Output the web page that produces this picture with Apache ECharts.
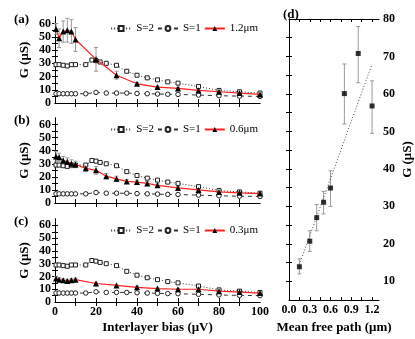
<!DOCTYPE html>
<html><head><meta charset="utf-8">
<script src="https://cdn.jsdelivr.net/npm/echarts@6/dist/echarts.min.js"></script>
<style>html,body{margin:0;padding:0;background:#fff}#c{width:415px;height:339px}</style>
</head><body><div id="c"></div>
<script>
// ---- data ----
const biasS2 = [0.5,2,4,6,8,10,15,18,20,22,25,30,35,40,45,50,55,60,70,80,90,100];
const gS2    = [29,29,28.5,28,29,29,29,32.5,32,31,30,28.5,24,21,19,17.5,16,15,12.5,9.5,8.5,7.5];
const biasS1 = [0.5,2,4,6,8,10,15,20,25,30,35,40,45,50,55,60,70,80,90,100];
const gS1    = [7,7,7,7,7,7,7,8,7.5,7.5,7.5,7.2,7,6.8,6.6,6.5,6,5.5,5.2,5];

const biasA = [0.5,2,4,6,8,10,20,30,40,50,60,70,80,90,100];
const gA    = [56,49,54,55,54,48,33,21,14.5,12,11,9.5,8.5,7.5,6.5];
const errA  = [4,7,8,9,9,9,9,3,1,0.8,0.8,0.5,0.5,0.5,0.5];

const biasB = [0.5,2,4,6,8,10,15,20,25,30,35,40,45,50,60,70,80,90,100];
const gB    = [35.5,35,32.5,31.5,30,29.5,26.5,25,20.5,18.5,16.5,16,15,13.5,11.5,10,8.5,7.8,7.2];
const errB  = [4,3,3,3,3,2.5,2.5,3,2,2,1.5,1.5,1.5,1.2,1,1,0.8,0.6,0.5];

const biasC = [0.5,2,4,6,8,10,20,30,40,50,60,70,80,90,100];
const gC    = [18.5,17.5,17,16.5,17,17.5,14.5,13,11.5,10.5,10,10,8.5,7.8,7];
const errC  = [1.5,1.5,1.2,1.2,1.2,1.2,1,0.8,0.8,0.6,0.6,0.6,0.5,0.5,0.5];

const mfp   = [0.15,0.3,0.4,0.5,0.6,0.8,1.0,1.2];
const gD    = [13.9,20.7,27,31.1,34.9,60.1,70.8,56.8];
const gDlo  = [12,18,23.5,28,30,52,63,49.5];
const gDhi  = [16,23.5,30.5,34,39.5,68,78,63.5];
const fitX  = [0.15,1.2];
const fitY  = [14.5,68];

const panelNames = ['1.2μm','0.6μm','0.3μm'];
const panelLetters = ['(a)','(b)','(c)','(d)'];
const leftYLabels = [0,10,20,30,40,50,60];
const leftYTicks = [5,10,15,20,25,30,35,40,45,50,55,60];
const biasLabels = [0,20,40,60,80,100];
const biasTicks = [10,20,30,40,50,60,70,80,90];
const mfpLabels = [0,0.3,0.6,0.9,1.2];
const mfpTicks = [0.15,0.3,0.45,0.6,0.75,0.9,1.05,1.2];
const gDLabels = [10,20,30,40,50,60,70,80];
const gDTicks = [10,15,20,25,30,35,40,45,50,55,60,65,70,75];

const redSets = [[biasA,gA,errA],[biasB,gB,errB],[biasC,gC,errC]];

// ---- layout ----
const FONT = "'Liberation Serif', 'DejaVu Serif', serif";
const grids = [
  {left:55, width:205, top:17, height:86},
  {left:55, width:205, top:118, height:85},
  {left:55, width:205, top:219, height:83},
  {left:289, width:94, top:19, height:285}
];
const zip = (a,b) => a.map((v,i)=>[v,b[i]]);

function errRender(params, api){
  const x = api.value(0), lo = api.value(1), hi = api.value(2);
  const p1 = api.coord([x, lo]), p2 = api.coord([x, hi]);
  const w = 2;
  const st = {stroke:'#9a9a9a', lineWidth:1};
  return {type:'group', children:[
    {type:'line', shape:{x1:p1[0],y1:p1[1],x2:p2[0],y2:p2[1]}, style:st},
    {type:'line', shape:{x1:p1[0]-w,y1:p1[1],x2:p1[0]+w,y2:p1[1]}, style:st},
    {type:'line', shape:{x1:p2[0]-w,y1:p2[1],x2:p2[0]+w,y2:p2[1]}, style:st}
  ]};
}

const xAxis = [], yAxis = [], series = [], legend = [], title = [];
const lblStyle = {fontFamily:FONT, fontWeight:'bold', fontSize:12, color:'#000'};
const nameStyle = {fontFamily:FONT, fontWeight:'bold', fontSize:13, color:'#000'};
const axLine = {show:true, lineStyle:{color:'#000', width:1}};

for (let p=0; p<3; p++){
  const last = p===2;
  xAxis.push({type:'value', gridIndex:p, min:0, max:100, position:'bottom',
    axisLine:axLine, splitLine:{show:false},
    axisTick:{inside:true, length:4, customValues:biasTicks, lineStyle:{color:'#000'}},
    axisLabel:{show:last, customValues:biasLabels, margin:4, ...lblStyle},
    name: last ? 'Interlayer bias (μV)' : '', nameLocation:'middle', nameGap:19, nameTextStyle:nameStyle});
  xAxis.push({type:'value', gridIndex:p, min:0, max:100, position:'top',
    axisLine:axLine, splitLine:{show:false},
    axisTick:{inside:true, length:4, customValues:biasTicks, lineStyle:{color:'#000'}},
    axisLabel:{show:false}});
  yAxis.push({type:'value', gridIndex:p, min:0, max:65, position:'left',
    axisLine:axLine, splitLine:{show:false},
    axisTick:{inside:true, length:3, customValues:leftYTicks, lineStyle:{color:'#000'}},
    axisLabel:{customValues:leftYLabels, margin:4, ...lblStyle},
    name:'G (μS)', nameLocation:'middle', nameGap:24, nameRotate:90, nameTextStyle:nameStyle});
  yAxis.push({type:'value', gridIndex:p, min:0, max:65, position:'right',
    axisLine:axLine, splitLine:{show:false},
    axisTick:{inside:true, length:3, customValues:leftYTicks, lineStyle:{color:'#000'}},
    axisLabel:{show:false}});

  const xi = p*2, yi = p*2;
  series.push({type:'line', name:'S=2', xAxisIndex:xi, yAxisIndex:yi, data:zip(biasS2,gS2),
    symbol:'rect', symbolSize:4, z:3,
    itemStyle:{color:'#fff', borderColor:'#222', borderWidth:1},
    lineStyle:{color:'#333', width:1, type:[1,2]}});
  series.push({type:'line', name:'S=1', xAxisIndex:xi, yAxisIndex:yi, data:zip(biasS1,gS1),
    symbol:'circle', symbolSize:4.5, z:3,
    itemStyle:{color:'#fff', borderColor:'#222', borderWidth:1},
    lineStyle:{color:'#333', width:1, type:[4,4]}});
  const [bx, gy, er] = redSets[p];
  series.push({type:'custom', name:'err'+p, xAxisIndex:xi, yAxisIndex:yi, z:2,
    data: bx.map((v,i)=>[v, gy[i]-er[i], gy[i]+er[i]]), renderItem:errRender,
    encode:{x:0, y:[1,2]}, silent:true});
  series.push({type:'line', name:panelNames[p], xAxisIndex:xi, yAxisIndex:yi, data:zip(bx,gy),
    symbol:'triangle', symbolSize:6, z:4,
    itemStyle:{color:'#000'}, lineStyle:{color:'#ff2020', width:1.2}});

  legend.push({data:['S=2','S=1',panelNames[p]], right:157, top:grids[p].top+6,
    itemWidth:20, itemHeight:6, itemGap:3, padding:0,
    textStyle:{fontFamily:FONT, fontSize:11, color:'#000'}});
  title.push({text:panelLetters[p], left:9, top:grids[p].top-9,
    textStyle:{fontFamily:FONT, fontWeight:'bold', fontSize:13, color:'#000'}});
}

// panel d
xAxis.push({type:'value', gridIndex:3, min:0, max:1.3, position:'bottom',
  axisLine:axLine, splitLine:{show:false},
  axisTick:{inside:true, length:3, customValues:mfpTicks, lineStyle:{color:'#000'}},
  axisLabel:{customValues:mfpLabels, margin:4, formatter:v=>v.toFixed(1), ...lblStyle},
  name:'Mean free path (μm)', nameLocation:'middle', nameGap:19, nameTextStyle:nameStyle});
xAxis.push({type:'value', gridIndex:3, min:0, max:1.3, position:'top',
  axisLine:axLine, splitLine:{show:false},
  axisTick:{inside:true, length:3, customValues:mfpTicks, lineStyle:{color:'#000'}},
  axisLabel:{show:false}});
yAxis.push({type:'value', gridIndex:3, min:5, max:80, position:'right',
  axisLine:axLine, splitLine:{show:false},
  axisTick:{inside:true, length:3, customValues:gDTicks, lineStyle:{color:'#000'}},
  axisLabel:{customValues:gDLabels, margin:4, ...lblStyle},
  name:'G (μS)', nameLocation:'middle', nameGap:22, nameRotate:90, nameTextStyle:nameStyle});
yAxis.push({type:'value', gridIndex:3, min:5, max:80, position:'left',
  axisLine:axLine, splitLine:{show:false},
  axisTick:{inside:true, length:3, customValues:gDTicks, lineStyle:{color:'#000'}},
  axisLabel:{show:false}});

series.push({type:'custom', name:'errD', xAxisIndex:6, yAxisIndex:6, z:2,
  data: mfp.map((v,i)=>[v, gDlo[i], gDhi[i]]), renderItem:errRender,
  encode:{x:0, y:[1,2]}, silent:true});
series.push({type:'line', name:'fit', xAxisIndex:6, yAxisIndex:6, data:zip(fitX,fitY),
  symbol:'none', z:3, lineStyle:{color:'#444', width:1, type:[1,2]}});
series.push({type:'scatter', name:'G', xAxisIndex:6, yAxisIndex:6, data:zip(mfp,gD),
  symbol:'rect', symbolSize:5, z:4, itemStyle:{color:'#000'}});
title.push({text:panelLetters[3], left:278, top:3,
  textStyle:{fontFamily:FONT, fontWeight:'bold', fontSize:13, color:'#000'}});

const chart = echarts.init(document.getElementById('c'), null, {renderer:'canvas'});
chart.setOption({
  animation:false, backgroundColor:'#fff',
  title, legend, grid:grids, xAxis, yAxis, series
});
</script></body></html>
